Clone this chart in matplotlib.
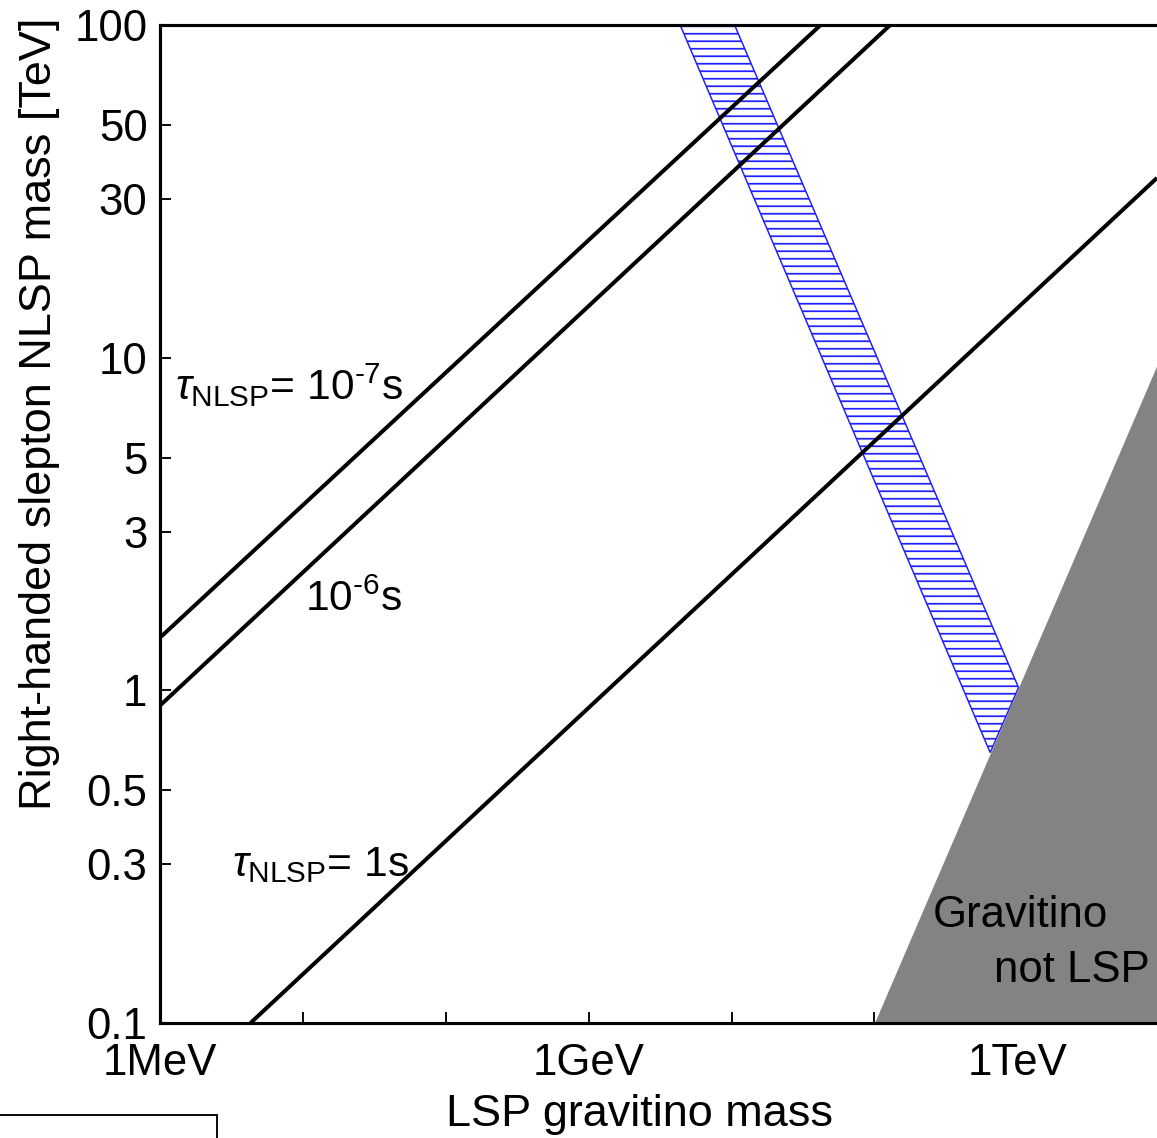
import matplotlib
matplotlib.use("Agg")
import matplotlib.pyplot as plt
from matplotlib.patches import Rectangle

# ---- data (x: gravitino mass in GeV, y: slepton mass in TeV) ----
tau_labels = ["1e-7 s", "1e-6 s", "1 s"]
line_1e7_x = [1e-3, 42.0]
line_1e7_y = [1.44, 100.0]
line_1e6_x = [1e-3, 129.0]
line_1e6_y = [0.90, 100.0]
line_1s_x = [4.3e-3, 9.5e3]
line_1s_y = [0.1, 34.7]

band_x = [4.37, 646.0, 1020.0, 10.5]
band_y = [100.0, 0.65, 1.02, 100.0]

gray_x = [100.0, 1.0e4]
gray_y = [0.1, 10.0]

ytick_vals = [0.1, 0.3, 0.5, 1, 3, 5, 10, 30, 50, 100]
ytick_labels = ["0.1", "0.3", "0.5", "1", "3", "5", "10", "30", "50", "100"]
xtick_vals = [1e-3, 1e-2, 1e-1, 1, 1e1, 1e2, 1e3]
xtick_labels = ["1MeV", "", "", "1GeV", "", "", "1TeV"]

plt.rcParams['font.family'] = ['Liberation Sans', 'DejaVu Sans']
plt.rcParams['mathtext.fontset'] = 'custom'
plt.rcParams['mathtext.rm'] = 'Liberation Sans'
plt.rcParams['mathtext.it'] = 'Liberation Sans:italic'
plt.rcParams['hatch.linewidth'] = 1.4

DPI = 90
fig = plt.figure(figsize=(1157 / DPI, 1138 / DPI), dpi=DPI)
ax = fig.add_axes([160 / 1157, 115 / 1138, 997 / 1157, 998 / 1138])
ax.set_xscale('log')
ax.set_yscale('log')
ax.set_xlim(1e-3, 9.5e3)
ax.set_ylim(0.1, 100)

# hatched band
ax.fill(band_x, band_y, facecolor='white', edgecolor='#2020ff', hatch='--',
        linewidth=1.2, zorder=2)

# gray region (gravitino not LSP)
ax.fill_between(gray_x, 0.05, gray_y, color='#838383', linewidth=0, zorder=3)

# lifetime lines
for lx, ly in [(line_1e7_x, line_1e7_y), (line_1e6_x, line_1e6_y), (line_1s_x, line_1s_y)]:
    ax.plot(lx, ly, color='black', linewidth=3.2, zorder=4, solid_capstyle='butt')

ax.set_yticks(ytick_vals)
ax.set_yticklabels(ytick_labels)
ax.set_xticks(xtick_vals)
ax.set_xticklabels(xtick_labels)
ax.minorticks_off()
ax.tick_params(direction='in', length=9, width=1.5, labelsize=35, pad=10)
ax.tick_params(axis='x', pad=16)

for s in ['left', 'bottom', 'top']:
    ax.spines[s].set_linewidth(2.5)
    ax.spines[s].set_zorder(6)
ax.spines['right'].set_visible(False)

ax.set_xlabel('LSP gravitino mass', fontsize=36)
ax.set_ylabel('Right-handed slepton NLSP mass [TeV]', fontsize=36)
ax.xaxis.set_label_coords(0.481, -0.071)
ax.yaxis.set_label_coords(-0.100, 0.610)

fs = 34
ax.text(0.015, 0.639, r'$\tau_{\mathrm{NLSP}}$= 10$^{\text{-}7}$s', transform=ax.transAxes,
        fontsize=fs, ha='left', va='center', zorder=7)
ax.text(0.145, 0.424, r'10$^{\text{-}6}$s', transform=ax.transAxes,
        fontsize=fs, ha='left', va='center', zorder=7)
ax.text(0.072, 0.158, r'$\tau_{\mathrm{NLSP}}$= 1s', transform=ax.transAxes,
        fontsize=fs, ha='left', va='center', zorder=7)
ax.text(0.775, 0.108, 'Gravitino', transform=ax.transAxes,
        fontsize=35, ha='left', va='center', zorder=7)
ax.text(0.837, 0.053, 'not LSP', transform=ax.transAxes,
        fontsize=35, ha='left', va='center', zorder=7)

# partial box at lower-left of the page
fig.patches.append(Rectangle((-0.01, -0.05), 217 / 1157 + 0.01, 0.05 + 23 / 1138,
                             transform=fig.transFigure, fill=False,
                             edgecolor='black', linewidth=1.5))

fig.savefig('out.png', dpi=DPI)
